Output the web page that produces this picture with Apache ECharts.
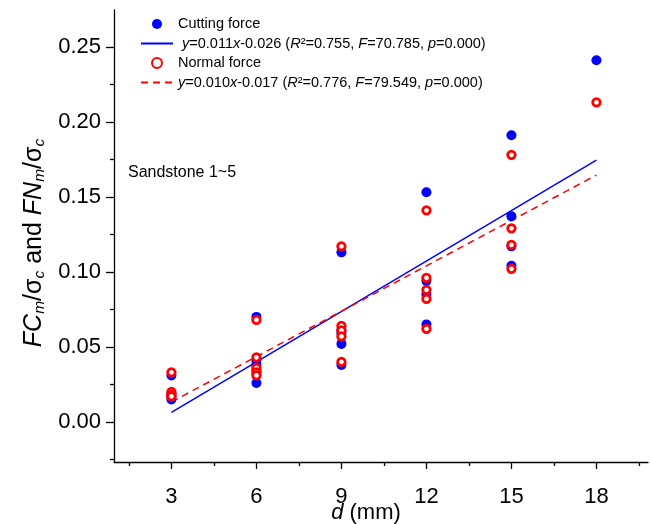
<!DOCTYPE html>
<html>
<head>
<meta charset="utf-8">
<script src="https://cdn.jsdelivr.net/npm/echarts@6/dist/echarts.min.js"></script>
<style>
html,body{margin:0;padding:0;background:#fff;}
#chart{width:651px;height:524px;}
</style>
</head>
<body>
<div id="chart"></div>
<script>
// ---- data ----
var xTicks = [3, 6, 9, 12, 15, 18];
var xMinorTicks = [1.5, 4.5, 7.5, 10.5, 13.5, 16.5, 19.5];
var yTicks = [0, 0.05, 0.10, 0.15, 0.20, 0.25];
var yMinorTicks = [-0.025, 0.025, 0.075, 0.125, 0.175, 0.225];

var cuttingX = [3, 3, 3, 3, 6, 6, 6, 6, 6, 9, 9, 9, 9, 9, 12, 12, 12, 12, 15, 15, 15, 15, 18];
var cuttingY = [0.031, 0.019, 0.017, 0.015, 0.070, 0.041, 0.038, 0.034, 0.026, 0.113, 0.061, 0.059, 0.052, 0.038, 0.153, 0.094, 0.085, 0.065, 0.191, 0.137, 0.117, 0.104, 0.241];
var normalX = [3, 3, 3, 3, 6, 6, 6, 6, 6, 9, 9, 9, 9, 9, 12, 12, 12, 12, 12, 15, 15, 15, 15, 18];
var normalY = [0.033, 0.020, 0.018, 0.017, 0.068, 0.043, 0.036, 0.033, 0.031, 0.117, 0.064, 0.061, 0.057, 0.040, 0.141, 0.096, 0.088, 0.082, 0.062, 0.178, 0.129, 0.118, 0.102, 0.213];

var fitX = [3, 18];
var cuttingFitY = [0.0063, 0.1745];
var normalFitY = [0.0133, 0.1645];

var cuttingFitLabel = ' y=0.011x-0.026 (R²=0.755, F=70.785, p=0.000)';
var normalFitLabel = 'y=0.010x-0.017 (R²=0.776, F=79.549, p=0.000)';

function zip(xs, ys) { return xs.map(function (x, i) { return [x, ys[i]]; }); }

var FONT = '"Liberation Sans", Arial, sans-serif';
var BLUE = '#0000ff';
var RED = '#ff0000';
var LFS = 14.5;

var chart = echarts.init(document.getElementById('chart'), null, {renderer: 'canvas'});

function richFit(s) {
  return s.replace(/(^ ?)y=/, '$1{i|y}{n|=')
    .replace(/x-/, '}{i|x}{n|-')
    .replace(/\(R²/, '(}{i|R}{n|²')
    .replace(/, F=/, ', }{i|F}{n|=')
    .replace(/, p=/, ', }{i|p}{n|=') + '}';
}

var legendNames = {
  'fitC': cuttingFitLabel,
  'fitN': normalFitLabel
};

var option = {
  animation: false,
  backgroundColor: '#fff',
  grid: {left: 114, right: 3, top: 10, bottom: 62, containLabel: false, outerBoundsMode: 'none'},
  legend: {
    data: [
      {name: 'Cutting force'},
      {name: 'fitC', itemStyle: {opacity: 0}},
      {name: 'Normal force', itemStyle: {borderWidth: 2}},
      {name: 'fitN', itemStyle: {opacity: 0}}
    ],
    orient: 'vertical',
    left: 135,
    top: 11,
    itemWidth: 32,
    itemHeight: 10,
    itemGap: 3.5,
    selectedMode: false,
    formatter: function (name) {
      if (legendNames[name]) return richFit(legendNames[name]);
      return '{n|' + name + '}';
    },
    textStyle: {
      fontFamily: FONT, fontSize: LFS, color: '#000', lineHeight: 16,
      rich: {
        n: {fontFamily: FONT, fontSize: LFS, color: '#000', lineHeight: 16},
        i: {fontFamily: FONT, fontSize: LFS, color: '#000', fontStyle: 'italic', lineHeight: 16}
      }
    }
  },
  xAxis: [{
    type: 'value',
    min: 0.973, max: 19.82,
    position: 'bottom',
    name: '{i|d}{n| (mm)}',
    nameLocation: 'middle',
    nameGap: 39,
    nameMoveOverlap: false,
    nameTextStyle: {
      padding: [0, 30, 0, 0],
      rich: {
        i: {fontFamily: FONT, fontSize: 22, fontStyle: 'italic', color: '#000', lineHeight: 24},
        n: {fontFamily: FONT, fontSize: 22, color: '#000', lineHeight: 24}
      }
    },
    axisLine: {show: true, onZero: false, lineStyle: {color: '#000', width: 1.3}},
    axisTick: {show: true, inside: false, length: 7, customValues: xTicks, lineStyle: {color: '#000', width: 1.3}},
    axisLabel: {customValues: xTicks, margin: 24, fontSize: 22, fontFamily: FONT, color: '#000'},
    splitLine: {show: false}
  }, {
    type: 'value',
    min: 0.973, max: 19.82,
    position: 'bottom',
    axisLine: {show: false, onZero: false},
    axisTick: {show: true, inside: false, length: 4, customValues: xMinorTicks, lineStyle: {color: '#000', width: 1.3}},
    axisLabel: {show: false},
    splitLine: {show: false}
  }],
  yAxis: [{
    type: 'value',
    min: -0.0267, max: 0.2745,
    position: 'left',
    name: '{i|FC}{s|m}{n|/σ}{s|c}{n| and }{i|FN}{s|m}{n|/σ}{s|c}',
    nameLocation: 'middle',
    nameRotate: 90,
    nameGap: 66,
    nameMoveOverlap: false,
    nameTextStyle: {
      padding: [0, 14, 0, 0],
      rich: {
        i: {fontFamily: FONT, fontSize: 25, fontStyle: 'italic', color: '#000', lineHeight: 28},
        n: {fontFamily: FONT, fontSize: 25, color: '#000', lineHeight: 28},
        s: {fontFamily: FONT, fontSize: 15.5, fontStyle: 'italic', color: '#000', lineHeight: 28, verticalAlign: 'bottom'}
      }
    },
    axisLine: {show: true, onZero: false, lineStyle: {color: '#000', width: 1.3}},
    axisTick: {show: true, inside: false, length: 8, customValues: yTicks, lineStyle: {color: '#000', width: 1.3}},
    axisLabel: {customValues: yTicks, margin: 13, fontSize: 22, fontFamily: FONT, color: '#000',
      formatter: function (v) { return v.toFixed(2); }},
    splitLine: {show: false}
  }, {
    type: 'value',
    min: -0.0267, max: 0.2745,
    position: 'left',
    axisLine: {show: false, onZero: false},
    axisTick: {show: true, inside: false, length: 4, customValues: yMinorTicks, lineStyle: {color: '#000', width: 1.3}},
    axisLabel: {show: false},
    splitLine: {show: false}
  }],
  graphic: [{
    type: 'text',
    left: 128,
    top: 165,
    style: {text: 'Sandstone 1~5', fontFamily: FONT, fontSize: 16, fill: '#000'}
  }],
  series: [{
    name: 'Cutting force',
    type: 'scatter',
    xAxisIndex: 0, yAxisIndex: 0,
    data: zip(cuttingX, cuttingY),
    symbol: 'circle',
    symbolSize: 10,
    itemStyle: {color: BLUE, opacity: 1},
    z: 3
  }, {
    name: 'fitC',
    type: 'line',
    xAxisIndex: 0, yAxisIndex: 0,
    data: zip(fitX, cuttingFitY),
    symbol: 'none',
    showSymbol: false,
    lineStyle: {color: BLUE, width: 1.5},
    itemStyle: {color: BLUE},
    z: 2
  }, {
    name: 'Normal force',
    type: 'scatter',
    xAxisIndex: 0, yAxisIndex: 0,
    data: zip(normalX, normalY),
    symbol: 'circle',
    symbolSize: 7.5,
    itemStyle: {color: '#fff', borderColor: RED, borderWidth: 2.8, opacity: 1},
    z: 4
  }, {
    name: 'fitN',
    type: 'line',
    xAxisIndex: 0, yAxisIndex: 0,
    data: zip(fitX, normalFitY),
    symbol: 'none',
    showSymbol: false,
    lineStyle: {color: RED, width: 1.5, type: [7, 5]},
    itemStyle: {color: RED},
    z: 2
  }]
};
chart.setOption(option);
</script>
</body>
</html>
